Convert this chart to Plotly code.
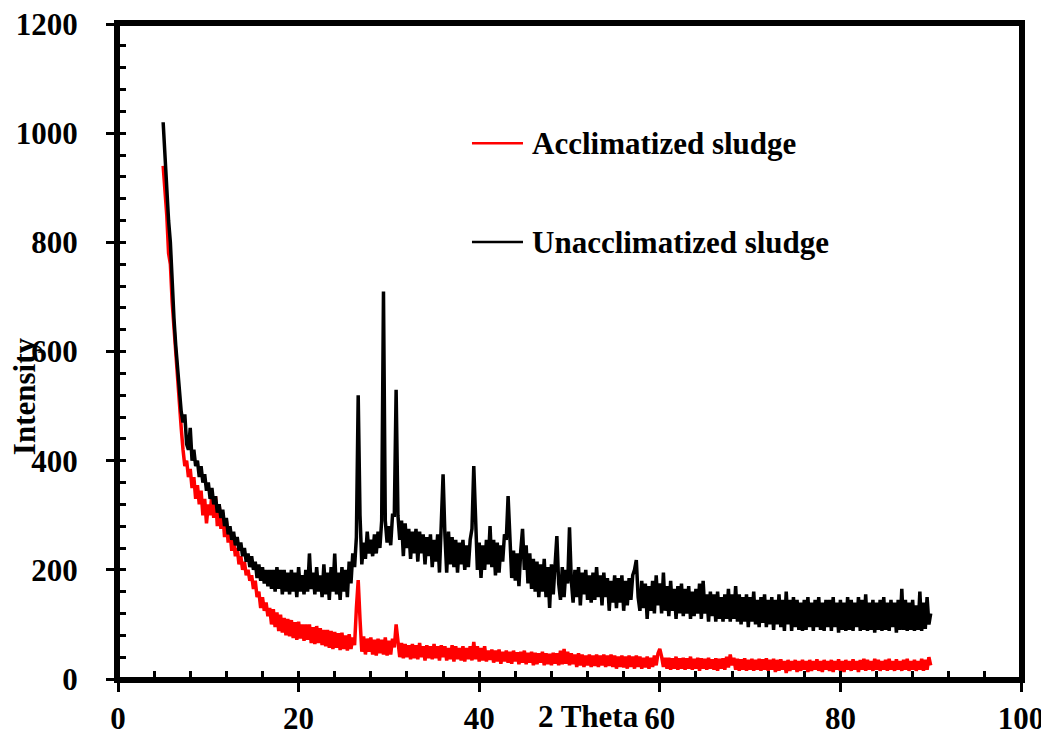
import plotly.graph_objects as go
import numpy as np

# sampling grid of the diffractograms (2 theta, degrees)
two_theta_start = 5.0
two_theta_step = 0.2

# Unacclimatized sludge intensities, 5.0 .. 90.0 step 0.2
unacclimatized = [
    1020, 960, 880, 840, 800, 720, 660, 610, 570, 520,
    490, 470, 485, 430, 420, 460, 400, 420, 390, 400,
    370, 390, 360, 375, 345, 360, 330, 350, 320, 335,
    305, 320, 295, 310, 280, 295, 265, 280, 255, 270,
    245, 260, 235, 250, 225, 240, 215, 230, 205, 225,
    200, 215, 185, 210, 180, 205, 175, 200, 170, 200,
    165, 200, 160, 205, 165, 200, 155, 200, 160, 195,
    155, 200, 160, 195, 150, 205, 160, 190, 155, 200,
    160, 230, 165, 195, 155, 205, 160, 190, 150, 210,
    155, 195, 145, 205, 160, 230, 155, 195, 145, 205,
    160, 200, 150, 215, 175, 230, 205, 260, 520, 300,
    210, 250, 220, 270, 230, 255, 225, 265, 230, 270,
    240, 290, 710, 290, 250, 280, 245, 300, 300, 530,
    300, 255, 290, 225, 285, 240, 275, 220, 270, 230,
    275, 215, 270, 230, 265, 210, 260, 225, 265, 205,
    255, 215, 265, 195, 275, 375, 265, 195, 270, 210,
    260, 205, 255, 195, 250, 210, 255, 200, 245, 205,
    255, 275, 390, 265, 200, 250, 185, 245, 200, 255,
    210, 280, 205, 255, 190, 250, 195, 245, 215, 265,
    255, 335, 245, 185, 235, 180, 230, 170, 235, 275,
    200, 245, 175, 230, 165, 220, 160, 215, 150, 210,
    160, 220, 150, 205, 130, 210, 155, 220, 262, 175,
    145, 205, 150, 200, 175, 278, 180, 140, 200, 150,
    205, 135, 195, 155, 200, 145, 190, 140, 195, 145,
    205, 150, 190, 135, 195, 150, 185, 125, 180, 140,
    190, 130, 185, 140, 190, 125, 180, 135, 185, 145,
    190, 200, 218, 150, 125, 180, 130, 175, 110, 170,
    125, 180, 120, 190, 135, 175, 120, 195, 125, 170,
    115, 180, 125, 165, 110, 170, 120, 175, 115, 165,
    120, 170, 110, 160, 115, 165, 120, 175, 110, 180,
    120, 155, 105, 160, 115, 155, 105, 160, 110, 150,
    105, 155, 110, 165, 105, 155, 110, 170, 105, 155,
    100, 150, 105, 155, 95, 150, 105, 160, 100, 145,
    95, 150, 103, 155, 95, 145, 100, 150, 90, 145,
    100, 155, 95, 145, 88, 160, 100, 145, 88, 150,
    95, 145, 90, 140, 88, 145, 90, 150, 95, 140,
    88, 145, 95, 150, 90, 140, 88, 145, 95, 145,
    88, 150, 95, 140, 85, 145, 90, 140, 88, 150,
    90, 145, 88, 140, 95, 150, 88, 145, 90, 155,
    88, 140, 90, 145, 85, 140, 90, 145, 88, 150,
    90, 140, 88, 145, 95, 140, 85, 145, 90, 165,
    90, 145, 88, 140, 90, 145, 88, 135, 90, 160,
    88, 140, 92, 150, 100, 120,
]

# Acclimatized sludge intensities, 5.0 .. 90.0 step 0.2
acclimatized = [
    940, 900, 850, 780, 760, 690, 640, 600, 540, 500,
    460, 420, 390, 400, 370, 385, 350, 370, 330, 355,
    320, 345, 300, 330, 285, 320, 300, 340, 295, 335,
    280, 320, 275, 305, 260, 290, 250, 270, 235, 255,
    225, 240, 210, 225, 200, 215, 190, 200, 180, 190,
    165, 180, 150, 160, 130, 150, 125, 140, 115, 130,
    100, 128, 95, 122, 88, 118, 85, 112, 80, 110,
    78, 108, 75, 104, 72, 105, 74, 100, 70, 100,
    72, 100, 66, 95, 64, 97, 66, 93, 62, 90,
    60, 90, 57, 88, 55, 86, 57, 84, 53, 85,
    55, 80, 52, 82, 55, 76, 62, 130, 181, 110,
    50, 78, 45, 74, 50, 76, 45, 72, 43, 74,
    47, 72, 45, 76, 43, 70, 45, 74, 58, 100,
    68, 40, 66, 38, 64, 40, 62, 36, 64, 38,
    62, 36, 66, 40, 60, 34, 62, 38, 60, 36,
    64, 38, 60, 34, 62, 40, 60, 34, 57, 36,
    62, 32, 60, 36, 57, 34, 60, 32, 57, 36,
    60, 34, 68, 36, 60, 32, 57, 34, 60, 32,
    52, 35, 54, 30, 52, 32, 54, 28, 50, 32,
    52, 30, 50, 28, 52, 32, 49, 27, 50, 30,
    52, 27, 48, 30, 50, 25, 48, 27, 47, 30,
    50, 25, 47, 27, 46, 25, 48, 28, 47, 25,
    52, 27, 55, 28, 50, 25, 47, 27, 45, 22,
    47, 25, 45, 22, 43, 25, 45, 22, 43, 24,
    45, 22, 43, 25, 45, 22, 43, 24, 45, 22,
    43, 19, 41, 22, 43, 21, 41, 19, 43, 22,
    41, 19, 43, 22, 41, 19, 39, 21, 41, 19,
    39, 22, 43, 25, 47, 55, 41, 22, 39, 19,
    39, 17, 38, 19, 41, 17, 38, 19, 39, 17,
    38, 19, 41, 17, 37, 19, 39, 15, 38, 19,
    37, 17, 39, 19, 36, 17, 38, 15, 37, 19,
    38, 17, 41, 21, 45, 25, 39, 17, 37, 15,
    36, 17, 38, 15, 35, 17, 37, 15, 35, 17,
    37, 15, 36, 17, 38, 15, 35, 17, 37, 13,
    35, 15, 36, 17, 33, 11, 35, 15, 33, 17,
    35, 13, 33, 15, 35, 17, 33, 13, 35, 15,
    33, 17, 36, 15, 33, 13, 35, 17, 33, 15,
    35, 13, 33, 17, 36, 15, 33, 13, 35, 17,
    33, 15, 36, 17, 33, 13, 35, 17, 37, 15,
    35, 17, 33, 15, 37, 17, 35, 15, 33, 17,
    35, 15, 37, 17, 33, 15, 36, 17, 33, 15,
    35, 17, 37, 15, 33, 17, 35, 15, 33, 17,
    37, 15, 35, 17, 40, 25,
]

series_names = ["Acclimatized sludge", "Unacclimatized sludge"]
series_colors = ["#ff0000", "#000000"]

x_ticks = [0, 20, 40, 60, 80, 100]
y_ticks = [0, 200, 400, 600, 800, 1000, 1200]

n = len(unacclimatized)
two_theta = np.round(two_theta_start + two_theta_step * np.arange(n), 1)

FONT = "Liberation Serif, Times New Roman, serif"
FS = 31

fig = go.Figure()
for name, color, vals in zip(series_names, series_colors, [acclimatized, unacclimatized]):
    fig.add_trace(go.Scatter(
        x=two_theta[:len(vals)], y=vals, mode="lines", name=name,
        line=dict(color=color, width=3.5), showlegend=False,
    ))

# plot frame
fig.add_shape(type="rect", xref="paper", yref="paper", x0=0, x1=1, y0=0, y1=1,
              line=dict(color="black", width=4), layer="above")

# legend drawn manually (line sample + label)
legend_rows = [0.818, 0.667]
for name, color, yy in zip(series_names, series_colors, legend_rows):
    fig.add_shape(type="line", xref="paper", yref="paper",
                  x0=0.392, x1=0.4485, y0=yy, y1=yy,
                  line=dict(color=color, width=2.5))
    fig.add_annotation(xref="paper", yref="paper", x=0.456, y=yy,
                       xanchor="left", yanchor="middle", showarrow=False,
                       text=name, font=dict(family=FONT, size=FS, color="black", weight="bold"))

fig.add_annotation(xref="paper", yref="paper", x=0.5205, y=-0.0565,
                   xanchor="center", yanchor="middle", showarrow=False,
                   text="2 Theta", font=dict(family=FONT, size=FS, color="black", weight="bold"))
fig.add_annotation(xref="paper", yref="paper", x=-0.104, y=0.432,
                   xanchor="center", yanchor="middle", showarrow=False, textangle=-90,
                   text="Intensity", font=dict(family=FONT, size=FS, color="black", weight="bold"))

tickfont = dict(family=FONT, size=FS, color="black", weight="bold")

# page body has an 8px margin, so the figure starts 8px in from the window corner
fig.update_layout(
    width=1041, height=727,
    margin=dict(l=110, r=28, t=16, b=56),
    paper_bgcolor="white", plot_bgcolor="white",
    showlegend=False,
    xaxis=dict(
        range=[0, 100], tickvals=x_ticks, ticktext=[str(v) for v in x_ticks],
        ticks="outside", ticklen=9, tickwidth=3, tickcolor="black",
        showline=True, linewidth=4, linecolor="black", mirror=True, automargin=False,
        showgrid=False, zeroline=False, tickfont=tickfont, ticklabelstandoff=0,
        ticklabeloverflow="allow",
        minor=dict(ticks="inside", dtick=4, ticklen=8, tickwidth=3, tickcolor="black", showgrid=False),
    ),
    yaxis=dict(
        range=[0, 1200], tickvals=y_ticks, ticktext=[str(v) for v in y_ticks],
        ticks="outside", ticklen=8, tickwidth=3, tickcolor="black",
        showline=True, linewidth=4, linecolor="black", mirror=True, automargin=False,
        showgrid=False, zeroline=False, tickfont=tickfont, ticklabelstandoff=22,
        ticklabeloverflow="allow",
        minor=dict(ticks="inside", dtick=40, ticklen=8, tickwidth=3, tickcolor="black", showgrid=False),
    ),
    xaxis2=dict(
        range=[0, 100], overlaying="x", anchor="y", side="bottom", tickvals=x_ticks,
        ticks="inside", ticklen=8, tickwidth=3, tickcolor="black", automargin=False,
        showticklabels=False, showline=False, showgrid=False, zeroline=False,
    ),
    yaxis2=dict(
        range=[0, 1200], overlaying="y", anchor="x", side="left", tickvals=y_ticks,
        ticks="inside", ticklen=8, tickwidth=3, tickcolor="black", automargin=False,
        showticklabels=False, showline=False, showgrid=False, zeroline=False,
    ),
)

fig.write_html("out.html", config={"displayModeBar": False})
